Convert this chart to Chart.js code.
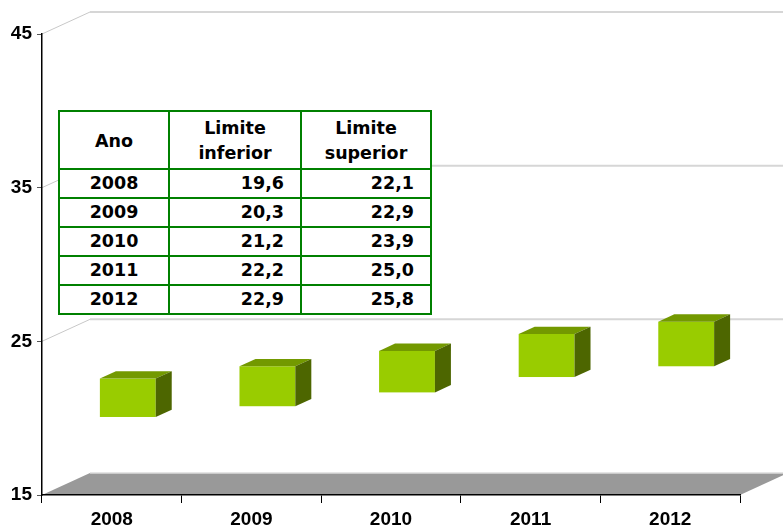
<!DOCTYPE html>
<html>
<head>
<meta charset="utf-8">
<script src="https://cdn.jsdelivr.net/npm/chart.js@4/dist/chart.umd.min.js"></script>
<style>
  html, body { margin: 0; padding: 0; background: #fff; }
  #wrap { position: relative; width: 783px; height: 528px; overflow: hidden; }
  #tbl {
    position: absolute; left: 58px; top: 110px;
    border-collapse: collapse; background: #fff;
    font-family: "DejaVu Sans", Verdana, sans-serif; font-weight: bold; font-size: 17.5px;
    color: #000;
  }
  #tbl td, #tbl th { border: 2px solid #008000; padding: 0; }
  #tbl th { height: 54px; line-height: 25px; font-weight: bold; text-align: center; padding-top: 2px; }
  #tbl td { height: 27px; line-height: 27px; }
  #tbl td.yr { text-align: center; }
  #tbl td.num { text-align: right; padding-right: 16px; }
</style>
</head>
<body>
<div id="wrap">
  <canvas id="c" width="783" height="528"></canvas>
  <table id="tbl"></table>
</div>
<script>
const categories = ['2008', '2009', '2010', '2011', '2012'];
const lowerLimit = [19.6, 20.3, 21.2, 22.2, 22.9];
const upperLimit = [22.1, 22.9, 23.9, 25.0, 25.8];
const tableHeaders = ['Ano', 'Limite<br>inferior', 'Limite<br>superior'];
const yMin = 15, yMax = 45, yStep = 10;

const fmt = v => v.toFixed(1).replace('.', ',');

// Build table from the arrays
(function () {
  const t = document.getElementById('tbl');
  let h = '<colgroup><col style="width:110px"><col style="width:132px"><col style="width:130px"></colgroup>';
  h += '<tr>' + tableHeaders.map(x => '<th>' + x + '</th>').join('') + '</tr>';
  categories.forEach((c, i) => {
    h += '<tr><td class="yr">' + c + '</td><td class="num">' + fmt(lowerLimit[i]) +
         '</td><td class="num">' + fmt(upperLimit[i]) + '</td></tr>';
  });
  t.innerHTML = h;
})();

const DX = 48, DY = 22; // 3D depth offset of back wall

const bg3d = {
  id: 'bg3d',
  beforeDraw(chart) {
    const ctx = chart.ctx, ca = chart.chartArea;
    const ys = chart.scales.y;
    ctx.save();
    ys.ticks.forEach(t => {
      if (t.value === yMin) return;
      const y = ys.getPixelForValue(t.value);
      ctx.strokeStyle = '#c8c8c8';
      ctx.lineWidth = 1;
      ctx.beginPath();
      ctx.moveTo(ca.left, y);
      ctx.lineTo(ca.left + DX, y - DY);
      ctx.stroke();
      ctx.strokeStyle = '#d6d6d6';
      ctx.lineWidth = 2;
      ctx.beginPath();
      ctx.moveTo(ca.left + DX, y - DY);
      ctx.lineTo(ca.right + DX, y - DY);
      ctx.stroke();
    });
    const yb = ys.getPixelForValue(yMin);
    ctx.fillStyle = '#999999';
    ctx.beginPath();
    ctx.moveTo(ca.left, yb);
    ctx.lineTo(ca.left + DX, yb - DY);
    ctx.lineTo(ca.right + DX, yb - DY);
    ctx.lineTo(ca.right, yb);
    ctx.closePath();
    ctx.fill();
    ctx.strokeStyle = '#dddddd';
    ctx.lineWidth = 1.5;
    ctx.beginPath();
    ctx.moveTo(ca.left + DX, yb - DY);
    ctx.lineTo(ca.right + DX, yb - DY);
    ctx.stroke();
    ctx.restore();
  }
};

const bars3d = {
  id: 'bars3d',
  afterDatasetsDraw(chart) {
    const ctx = chart.ctx;
    const meta = chart.getDatasetMeta(0);
    const ox = DX / 3, oy = DY / 3;
    const bx = DX / 3, by = DY / 3;
    ctx.save();
    meta.data.forEach(el => {
      const p = el.getProps(['x', 'y', 'base', 'width'], true);
      const l = p.x - p.width / 2 + ox, r = p.x + p.width / 2 + ox;
      const top = Math.min(p.y, p.base) - oy, bot = Math.max(p.y, p.base) - oy;
      ctx.fillStyle = '#99cc00';
      ctx.fillRect(l, top, r - l, bot - top);
      ctx.fillStyle = '#739900';
      ctx.beginPath();
      ctx.moveTo(l, top); ctx.lineTo(l + bx, top - by);
      ctx.lineTo(r + bx, top - by); ctx.lineTo(r, top); ctx.closePath(); ctx.fill();
      ctx.fillStyle = '#4d6600';
      ctx.beginPath();
      ctx.moveTo(r, top); ctx.lineTo(r + bx, top - by);
      ctx.lineTo(r + bx, bot - by); ctx.lineTo(r, bot); ctx.closePath(); ctx.fill();
    });
    ctx.restore();
  }
};

const axisFont = { family: '"Liberation Sans", Arial, sans-serif', size: 19, weight: 'bold' };

new Chart(document.getElementById('c'), {
  type: 'bar',
  data: {
    labels: categories,
    datasets: [{
      data: categories.map((c, i) => [lowerLimit[i], upperLimit[i]]),
      backgroundColor: 'rgba(0,0,0,0)',
      borderWidth: 0,
      barPercentage: 0.4,
      categoryPercentage: 1
    }]
  },
  options: {
    responsive: false,
    animation: false,
    devicePixelRatio: 1,
    layout: { padding: { left: 0, top: 34, right: 43, bottom: 0 } },
    plugins: { legend: { display: false }, tooltip: { enabled: false } },
    scales: {
      x: {
        afterFit: s => { s.height = 33; },
        grid: { drawOnChartArea: false, drawTicks: true, tickLength: 8, color: '#000', offset: true },
        border: { display: true, color: '#000', width: 1.5 },
        ticks: { color: '#000', padding: 5, font: axisFont }
      },
      y: {
        min: yMin, max: yMax,
        afterFit: s => { s.width = 42; },
        grid: { drawOnChartArea: false, drawTicks: true, tickLength: 5, color: '#555' },
        border: { display: true, color: '#000', width: 1.5 },
        ticks: { stepSize: yStep, color: '#000', padding: 5, font: axisFont }
      }
    }
  },
  plugins: [bg3d, bars3d]
});
</script>
</body>
</html>
